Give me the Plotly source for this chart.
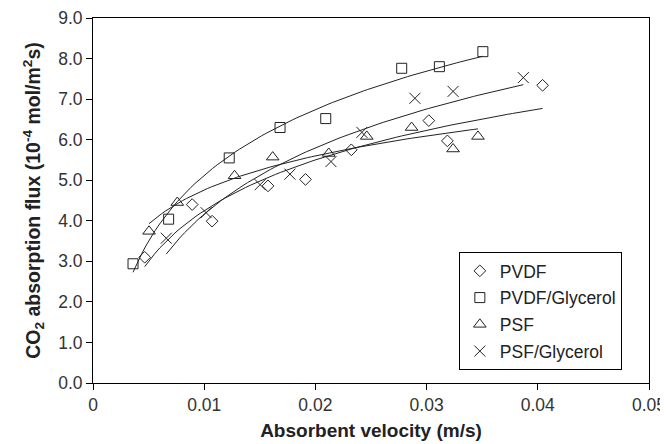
import numpy as np
import plotly.graph_objects as go

# Data
pvdf_x = [0.00465, 0.00892, 0.01071, 0.01574, 0.01911, 0.02323, 0.0302, 0.03187, 0.04043]
pvdf_y = [3.10, 4.40, 3.99, 4.86, 5.02, 5.75, 6.47, 5.97, 7.34]

pvdfg_x = [0.0036, 0.0068, 0.01225, 0.01682, 0.02093, 0.02776, 0.03115, 0.03506]
pvdfg_y = [2.94, 4.04, 5.55, 6.30, 6.52, 7.76, 7.80, 8.17]

psf_x = [0.00504, 0.00758, 0.01273, 0.01616, 0.0212, 0.02462, 0.02865, 0.03238, 0.03462]
psf_y = [3.74, 4.45, 5.11, 5.57, 5.66, 6.08, 6.30, 5.77, 6.08]

psfg_x = [0.00659, 0.01017, 0.01503, 0.01771, 0.0214, 0.02418, 0.02895, 0.03238, 0.0387]
psfg_y = [3.57, 4.20, 4.89, 5.15, 5.46, 6.18, 7.02, 7.19, 7.53]

names = ["PVDF", "PVDF/Glycerol", "PSF", "PSF/Glycerol"]
symbols = ["diamond-open", "square-open", "triangle-up-open", "x-thin-open"]
sizes = [9, 10, 11, 11]
series = [(pvdf_x, pvdf_y), (pvdfg_x, pvdfg_y), (psf_x, psf_y), (psfg_x, psfg_y)]

INK = "#222222"
fig = go.Figure()

# Logarithmic trendlines (least squares fit y = a*ln(x) + c, as a spreadsheet trendline)
for (xs, ys) in series:
    a, c = np.polyfit(np.log(xs), ys, 1)
    xf = np.linspace(min(xs), max(xs), 80)
    yf = a * np.log(xf) + c
    fig.add_trace(go.Scatter(x=xf, y=yf, mode="lines", showlegend=False,
                             line=dict(color=INK, width=1), hoverinfo="skip"))

for (xs, ys), n, s, sz in zip(series, names, symbols, sizes):
    fig.add_trace(go.Scatter(x=xs, y=ys, mode="markers", name=n, legendgroup=n,
                             marker=dict(symbol=s, size=sz, color=INK,
                                         line=dict(color=INK, width=1))))

font = "Liberation Sans, Arial, sans-serif"
fig.update_layout(
    width=668, height=436,
    margin=dict(l=85, r=27, t=10, b=61),
    paper_bgcolor="white", plot_bgcolor="white",
    font=dict(family=font, size=17.5, color=INK),
    legend=dict(x=0.658, y=0.359, xanchor="left", yanchor="top",
                bordercolor="black", borderwidth=1, bgcolor="white",
                font=dict(size=17.5), itemwidth=30, tracegroupgap=1,
                traceorder="grouped"),
    xaxis=dict(range=[0, 0.05], dtick=0.01, tick0=0, ticks="outside", ticklen=6,
               tickcolor="black", showline=True, linecolor="black", linewidth=1,
               mirror=True, showgrid=False, zeroline=False, automargin=False,
               tickfont=dict(size=17.5, color="#333"),
               title=dict(text="<b>Absorbent velocity (m/s)</b>", font=dict(size=19), standoff=9)),
    yaxis=dict(range=[0, 9], dtick=1, tick0=0, tickformat=".1f", ticks="outside", ticklen=6,
               tickcolor="black", showline=True, linecolor="black", linewidth=1,
               mirror=True, showgrid=False, zeroline=False, automargin=False,
               tickfont=dict(size=17.5, color="#333"),
               title=dict(text="<b>CO<sub>2</sub> absorption flux (10<sup>-4</sup> mol/m<sup>2</sup>s)</b>",
                          font=dict(size=19.5), standoff=12)),
)

fig.write_html("out.html")
